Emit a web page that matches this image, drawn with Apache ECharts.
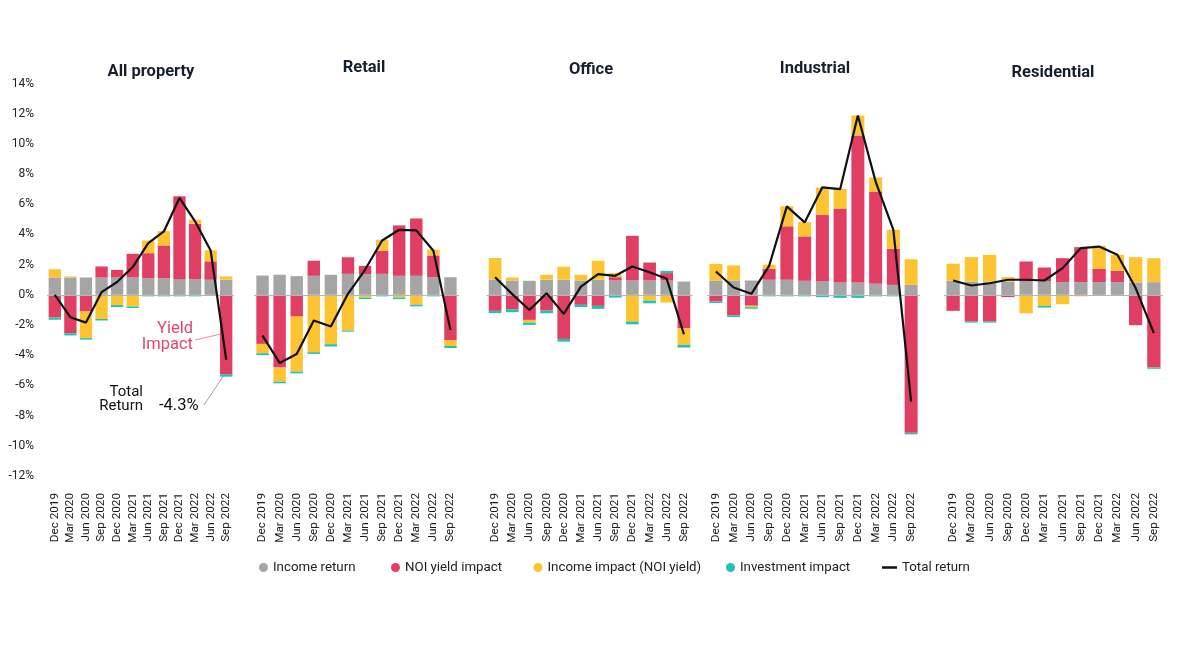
<!DOCTYPE html>
<html>
<head>
<meta charset="utf-8">
<script src="https://cdn.jsdelivr.net/npm/echarts@6/dist/echarts.min.js"></script>
<style>
html,body{margin:0;padding:0;background:#fff;}
#chart{width:1182px;height:652px;}
</style>
</head>
<body>
<div id="chart"></div>
<script>
const categories = ['Dec 2019','Mar 2020','Jun 2020','Sep 2020','Dec 2020','Mar 2021','Jun 2021','Sep 2021','Dec 2021','Mar 2022','Jun 2022','Sep 2022'];
const panelTitles = ['All property','Retail','Office','Industrial','Residential'];
const seriesNames = ['Income return','NOI yield impact','Income impact (NOI yield)','Investment impact','Total return'];

// All property
const allIncome = [1.15,1.15,1.15,1.15,1.15,1.15,1.1,1.1,1.04,1.04,1.0,1.0];
const allNoi    = [-1.5,-2.54,-1.1,0.73,0.5,1.57,1.66,2.17,5.49,3.67,1.22,-5.27];
const allIncImp = [0.55,0.07,-1.77,-1.6,-0.68,-0.77,0.84,0.95,0,0.27,0.73,0.22];
const allInv    = [-0.15,-0.15,-0.1,-0.1,-0.13,-0.1,-0.1,-0.1,-0.1,-0.1,0,-0.15];
const allTotal  = [0.0,-1.48,-1.84,0.18,0.85,1.84,3.43,4.2,6.42,4.87,2.94,-4.3];

// Retail
const retIncome = [1.28,1.33,1.24,1.26,1.33,1.39,1.37,1.39,1.26,1.26,1.17,1.17];
const retNoi    = [-3.25,-4.82,-1.44,1.0,0,1.1,0.55,1.53,3.34,3.8,1.44,-2.99];
const retIncImp = [-0.62,-0.93,-3.65,-3.8,-3.27,-2.37,-0.18,0.73,-0.18,-0.66,0.38,-0.4];
const retInv    = [-0.13,-0.11,-0.11,-0.11,-0.15,-0.07,-0.1,-0.1,-0.1,-0.1,-0.1,-0.13];
const retTotal  = [-2.7,-4.51,-3.92,-1.7,-2.1,0.07,1.66,3.6,4.31,4.27,2.92,-2.32];

// Office
const offIncome = [1.0,0.95,0.93,1.0,1.0,0.95,1.0,0.95,0.95,0.95,0.95,0.88];
const offNoi    = [-1.06,-0.95,-1.66,-1.04,-2.92,-0.66,-0.73,0.22,2.96,1.19,0.49,-2.21];
const offIncImp = [1.44,0.2,-0.18,0.33,0.86,0.38,1.26,0.27,-1.77,-0.38,-0.51,-1.1];
const offInv    = [-0.15,-0.2,-0.15,-0.18,-0.18,-0.15,-0.2,-0.18,-0.18,-0.18,0.15,-0.18];
const offTotal  = [1.17,0.05,-1.0,0.11,-1.26,0.55,1.37,1.26,1.88,1.5,1.06,-2.61];

// Industrial
const indIncome = [0.95,0.95,0.95,1.0,1.0,0.93,0.88,0.82,0.82,0.73,0.66,0.66];
const indNoi    = [-0.44,-1.37,-0.72,0.73,3.54,2.94,4.42,4.9,9.73,6.11,2.39,-9.14];
const indIncImp = [1.1,1.0,-0.1,0.27,1.33,0.95,1.81,1.3,1.33,0.93,1.26,1.7];
const indInv    = [-0.1,-0.1,-0.1,-0.1,-0.1,-0.1,-0.15,-0.2,-0.2,-0.1,-0.1,-0.1];
const indTotal  = [1.55,0.49,0.07,1.92,5.86,4.8,7.12,7.0,11.88,7.5,4.31,-7.08];

// Residential
const resIncome = [0.93,0.88,0.88,0.88,0.88,0.88,0.84,0.84,0.84,0.84,0.82,0.84];
const resNoi    = [-1.06,-1.77,-1.77,-0.15,1.33,0.93,1.59,2.32,0.88,0.75,-2.01,-4.82];
const resIncImp = [1.13,1.62,1.77,0.29,-1.22,-0.73,-0.62,-0.1,1.53,1.06,1.68,1.59];
const resInv    = [0,-0.07,-0.07,0,0,-0.11,0,0,0,0,0,-0.08];
const resTotal  = [0.95,0.62,0.77,1.0,1.0,0.95,1.77,3.1,3.2,2.65,0.45,-2.54];

const yMin = -12, yMax = 14, yInterval = 2;

const panels = [
  [allIncome, allNoi, allIncImp, allInv, allTotal],
  [retIncome, retNoi, retIncImp, retInv, retTotal],
  [offIncome, offNoi, offIncImp, offInv, offTotal],
  [indIncome, indNoi, indIncImp, indInv, indTotal],
  [resIncome, resNoi, resIncImp, resInv, resTotal]
];

// layout (pixels)
const gridLefts  = [47, 254, 486.5, 707, 944];
const gridWidths = [187, 205, 206, 213, 219];
const barWidths  = [12.3, 12.4, 12.7, 13, 13.3];
const titleX = [151, 364, 591, 815, 1053];
const titleY = [72, 68, 70, 69, 73];
const colors = ['#a5a5a5', '#e03e63', '#fcc431', '#1fc3b3', '#111111'];

const font = 'Roboto, "Noto Sans", sans-serif';

const grids = [], xAxes = [], yAxes = [], series = [];
panels.forEach((p, i) => {
  grids.push({left: gridLefts[i], width: gridWidths[i], top: 83.5, height: 392.5, containLabel: false});
  xAxes.push({
    type: 'category', gridIndex: i, data: categories, position: 'bottom',
    axisLine: {show: false, onZero: false}, axisTick: {show: false},
    axisLabel: {rotate: 90, margin: 17, fontSize: 11.7, color: '#1a1a1a', fontFamily: font, interval: 0}
  });
  yAxes.push({
    type: 'value', gridIndex: i, min: yMin, max: yMax, interval: yInterval,
    axisLine: {show: false}, axisTick: {show: false}, splitLine: {show: false},
    axisLabel: {show: i === 0, formatter: '{value}%', fontSize: 12, color: '#222', fontFamily: font, margin: 13}
  });
  for (let k = 0; k < 4; k++) {
    const s = {
      name: seriesNames[k], type: 'bar', xAxisIndex: i, yAxisIndex: i,
      stack: 'panel' + i, barWidth: barWidths[i], data: p[k],
      itemStyle: {color: colors[k]}, emphasis: {disabled: true}
    };
    if (k === 0) {
      s.markLine = {silent: true, symbol: 'none', label: {show: false},
        lineStyle: {color: '#b5b5b5', width: 1, type: 'solid'},
        emphasis: {disabled: true}, data: [{yAxis: 0}]};
    }
    series.push(s);
  }
  series.push({
    name: seriesNames[4], type: 'line', xAxisIndex: i, yAxisIndex: i,
    data: p[4], showSymbol: false, symbol: 'none', z: 5,
    lineStyle: {color: colors[4], width: 2.2}, itemStyle: {color: colors[4]},
    emphasis: {disabled: true}
  });
});

const legendText = {fontSize: 13.3, color: '#222', fontFamily: font};
const legendLefts = [254, 386, 528.5, 721, 877];
const legends = seriesNames.map((n, k) => ({
  data: [n], left: legendLefts[k], top: 556,
  icon: k === 4 ? 'rect' : 'circle',
  itemWidth: k === 4 ? 15 : 9, itemHeight: k === 4 ? 2.5 : 9,
  itemGap: 0, textStyle: legendText, selectedMode: false
}));

const graphics = panelTitles.map((t, i) => ({
  type: 'text', x: titleX[i], y: titleY[i],
  style: {text: t, font: 'bold 16.5px Roboto, sans-serif', fill: '#16202c',
          align: 'center', verticalAlign: 'middle', textAlign: 'center', textVerticalAlign: 'middle'}
}));
graphics.push(
  {type: 'text', x: 193, y: 337,
   style: {text: 'Yield\nImpact', font: '16.5px Roboto, sans-serif', fill: '#e0476c', lineHeight: 16,
           align: 'right', verticalAlign: 'middle', textAlign: 'right', textVerticalAlign: 'middle'}},
  {type: 'line', shape: {x1: 195, y1: 340, x2: 221, y2: 334}, style: {stroke: '#e98ea4', lineWidth: 1}},
  {type: 'text', x: 143, y: 399,
   style: {text: 'Total\nReturn', font: '15px Roboto, sans-serif', fill: '#111', lineHeight: 14,
           align: 'right', verticalAlign: 'middle', textAlign: 'right', textVerticalAlign: 'middle'}},
  {type: 'text', x: 159, y: 406,
   style: {text: '-4.3%', font: '16.5px Roboto, sans-serif', fill: '#111',
           align: 'left', verticalAlign: 'middle', textAlign: 'left', textVerticalAlign: 'middle'}},
  {type: 'line', shape: {x1: 204, y1: 405, x2: 226, y2: 372}, style: {stroke: '#a0a0a0', lineWidth: 1}}
);

const chart = echarts.init(document.getElementById('chart'), null, {renderer: 'canvas'});
chart.setOption({
  animation: false,
  backgroundColor: '#ffffff',
  textStyle: {fontFamily: font},
  grid: grids, xAxis: xAxes, yAxis: yAxes, series: series,
  legend: legends,
  graphic: graphics
});
</script>
</body>
</html>
